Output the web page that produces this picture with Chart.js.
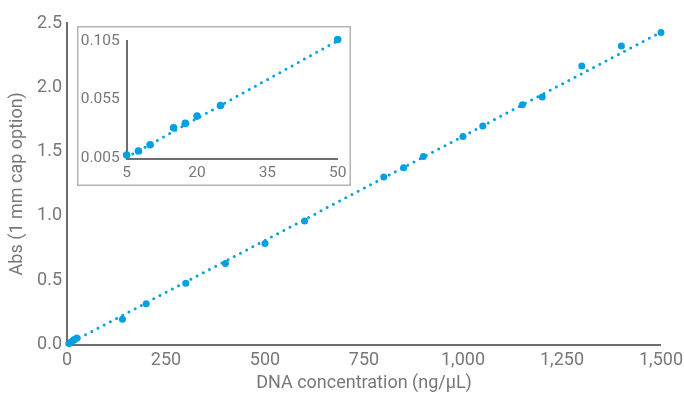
<!DOCTYPE html>
<html>
<head>
<meta charset="utf-8">
<script src="https://cdn.jsdelivr.net/npm/chart.js@4.4.0/dist/chart.umd.min.js"></script>
<style>
  html, body { margin: 0; padding: 0; background: #fff; }
  #wrap { position: relative; width: 684px; height: 394px; }
  #main { position: absolute; left: 0; top: 0; }
  #inset { position: absolute; left: 77px; top: 26px; }
</style>
</head>
<body>
<div id="wrap">
  <canvas id="main" width="684" height="394"></canvas>
  <canvas id="inset" width="274" height="160"></canvas>
</div>
<script>
// Low-concentration standards (ng/µL) and absorbance (inset)
const lowConc = [5, 7.5, 10, 15, 17.5, 20, 25, 50];
const lowAbs  = [0.008, 0.0114, 0.0167, 0.031, 0.0348, 0.041, 0.050, 0.106];
// Low-concentration points visible in the main plot
const mainLowConc = [5, 7.5, 10, 15, 17.5, 20, 25];
const mainLowAbs  = [0.008, 0.0114, 0.0167, 0.031, 0.0348, 0.041, 0.050];
// High-concentration standards
const highConc = [140, 200, 300, 400, 500, 600, 800, 850, 900, 1000, 1050, 1150, 1200, 1300, 1400, 1500];
const highAbs  = [0.197, 0.316, 0.477, 0.630, 0.786, 0.960, 1.303, 1.375, 1.461, 1.617, 1.700, 1.864, 1.924, 2.165, 2.321, 2.427];
// Trend lines (end points)
const mainFitConc = [0, 1500];
const mainFitAbs  = [0, 2.43];
const insetFitConc = [5, 50];
const insetFitAbs  = [0.006, 0.105];
// Tick labels
const mainXTicks = [0, 250, 500, 750, 1000, 1250, 1500];
const mainYTicks = [0, 0.5, 1.0, 1.5, 2.0, 2.5];
const insetXTicks = [5, 20, 35, 50];
const insetYTicks = [0.005, 0.055, 0.105];

const BLUE = '#00a0e3';
const AXIS = '#6d6e72';
const TEXT = '#77787b';
const FONT = 'Roboto';

const pts = (xs, ys) => xs.map((x, i) => ({x, y: ys[i]}));
const setTicks = arr => scale => { scale.ticks = arr.map(v => ({value: v})); };

function scatterSet(data, r) {
  return { type: 'scatter', data, backgroundColor: BLUE, borderWidth: 0,
           pointRadius: r, pointHoverRadius: r, clip: false, order: 0 };
}
function fitSet(data) {
  return { type: 'scatter', data, showLine: true, borderColor: BLUE, borderWidth: 3,
           borderDash: [0, 7], borderCapStyle: 'round', pointRadius: 0,
           clip: false, order: 1 };
}

new Chart(document.getElementById('main'), {
  type: 'scatter',
  data: { datasets: [
    scatterSet(pts(mainLowConc, mainLowAbs).concat(pts(highConc, highAbs)), 3.5),
    fitSet(pts(mainFitConc, mainFitAbs))
  ]},
  options: {
    responsive: false, animation: false, events: [],
    layout: { padding: { left: 0, right: 23, top: 23, bottom: 0 } },
    plugins: { legend: { display: false }, tooltip: { enabled: false } },
    scales: {
      x: {
        type: 'linear', min: 0, max: 1500,
        afterBuildTicks: setTicks(mainXTicks),
        afterFit: s => { s.height = 49.5; },
        grid: { display: false, drawTicks: true, tickLength: 4, tickColor: AXIS, tickWidth: 1.5 },
        border: { display: true, color: AXIS, width: 2 },
        ticks: { color: TEXT, font: { family: FONT, size: 18 }, padding: 1,
                 callback: v => v.toLocaleString('en-US') },
        title: { display: true, text: 'DNA concentration (ng/µL)', color: TEXT,
                 font: { family: FONT, size: 18 }, padding: { top: 0, bottom: 0 } }
      },
      y: {
        type: 'linear', min: 0, max: 2.5,
        afterBuildTicks: setTicks(mainYTicks),
        afterFit: s => { s.width = 67; },
        grid: { display: false, drawTicks: true, tickLength: 4, tickColor: AXIS, tickWidth: 1.5 },
        border: { display: true, color: AXIS, width: 2 },
        ticks: { color: TEXT, font: { family: FONT, size: 18 }, padding: 1,
                 callback: v => Number(v).toFixed(1) },
        title: { display: true, text: 'Abs (1 mm cap option)', color: TEXT,
                 font: { family: FONT, size: 18 }, padding: { top: 7, bottom: 0 } }
      }
    }
  }
});

const boxPlugin = {
  id: 'box',
  beforeDraw(chart) {
    const ctx = chart.ctx;
    ctx.save();
    ctx.fillStyle = '#fff';
    ctx.fillRect(0, 0, chart.width, chart.height);
    ctx.strokeStyle = '#b4b4b4';
    ctx.lineWidth = 1.5;
    ctx.strokeRect(0.75, 0.75, chart.width - 1.5, chart.height - 1.5);
    ctx.restore();
  }
};

new Chart(document.getElementById('inset'), {
  type: 'scatter',
  data: { datasets: [
    scatterSet(pts(lowConc, lowAbs), 3.8),
    fitSet(pts(insetFitConc, insetFitAbs))
  ]},
  plugins: [boxPlugin],
  options: {
    responsive: false, animation: false, events: [],
    layout: { padding: { left: 0, right: 13.3, top: 14.7, bottom: 0 } },
    plugins: { legend: { display: false }, tooltip: { enabled: false } },
    scales: {
      x: {
        type: 'linear', min: 5, max: 50,
        afterBuildTicks: setTicks(insetXTicks),
        afterFit: s => { s.height = 27.5; },
        grid: { display: false, drawTicks: true, tickLength: 3, tickColor: AXIS, tickWidth: 1.5 },
        border: { display: true, color: AXIS, width: 2 },
        ticks: { color: TEXT, font: { family: FONT, size: 15.5 }, padding: 2,
                 callback: v => String(v) }
      },
      y: {
        type: 'linear', min: 0.005, max: 0.105,
        afterBuildTicks: setTicks(insetYTicks),
        afterFit: s => { s.width = 49.7; },
        grid: { display: false, drawTicks: true, tickLength: 4, tickColor: AXIS, tickWidth: 1.5 },
        border: { display: true, color: AXIS, width: 2 },
        ticks: { color: TEXT, font: { family: FONT, size: 15.5 }, padding: 3,
                 callback: v => Number(v).toFixed(3) }
      }
    }
  }
});
</script>
</body>
</html>
